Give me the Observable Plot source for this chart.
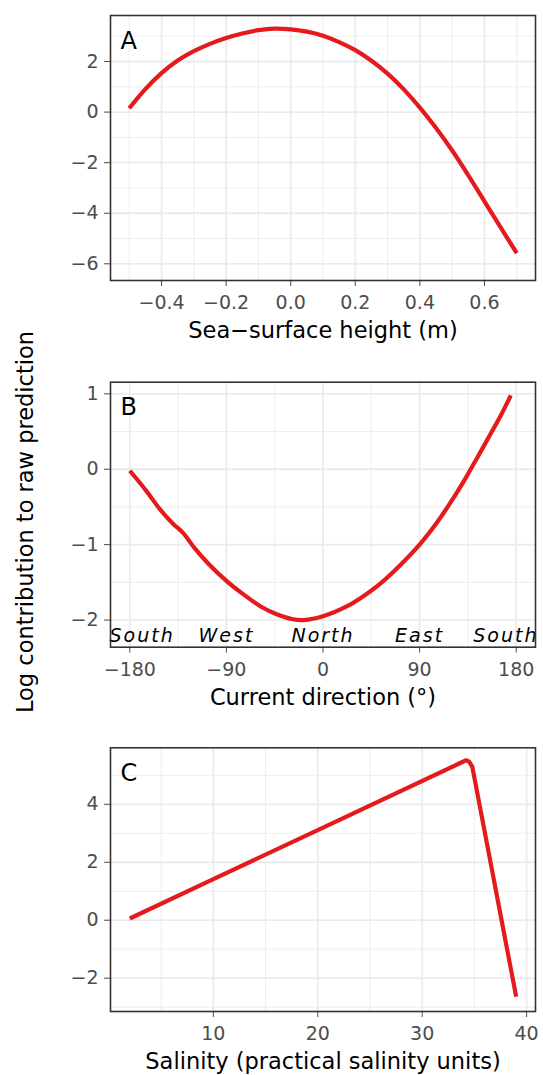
<!DOCTYPE html>
<html><head><meta charset="utf-8">
<script src="https://cdn.jsdelivr.net/npm/d3@7"></script>
<script src="https://cdn.jsdelivr.net/npm/@observablehq/plot@0.6"></script>
<style>
body{margin:0;background:#fff;}
#wrap{position:relative;width:543px;height:1075px;overflow:hidden;font-family:"DejaVu Sans";}
#wrap > svg{display:block;}
#ylab{position:absolute;left:0;top:0;}
</style></head><body><div id="wrap"></div>
<script>
// Panel A: sea-surface height (m)
const sshX = [-0.5,-0.45,-0.4,-0.35,-0.3,-0.25,-0.2,-0.15,-0.1,-0.05,0,0.05,0.1,0.15,0.2,0.25,0.3,0.35,0.4,0.45,0.5,0.55,0.6,0.65,0.7];
const sshY = [0.15,0.91,1.54,2.04,2.41,2.70,2.93,3.11,3.24,3.30,3.27,3.18,3.02,2.77,2.45,2.03,1.52,0.90,0.18,-0.63,-1.52,-2.50,-3.53,-4.56,-5.58];
const sshTicks = [-0.4,-0.2,0,0.2,0.4,0.6];
const sshMinor = [-0.5,-0.3,-0.1,0.1,0.3,0.5,0.7];
const aYTicks = [-6,-4,-2,0,2];
const aYMinor = [-5,-3,-1,1,3];

// Panel B: current direction (degrees)
const dirX = [-180,-165,-152,-140,-130,-120,-107,-90,-75,-58,-42,-28,-18,0,22,38,54,70,90,105,118,131,144,157,167,175];
const dirY = [-0.02,-0.28,-0.53,-0.72,-0.85,-1.04,-1.25,-1.48,-1.65,-1.82,-1.93,-1.99,-2.0,-1.95,-1.82,-1.68,-1.51,-1.30,-1.0,-0.73,-0.46,-0.165,0.16,0.49,0.75,0.98];
const dirTicks = [-180,-90,0,90,180];
const dirMinor = [-135,-45,45,135];
const bYTicks = [-2,-1,0,1];
const bYMinor = [-1.5,-0.5,0.5];
const compassLabels = ["South","West","North","East","South"];
const compassDeg = [-180,-90,0,90,180];

// Panel C: salinity
const salX = [2,10,20,34.2,34.5,34.8,39];
const salY = [0.06,1.42,3.11,5.52,5.47,5.29,-2.64];
const salTicks = [10,20,30,40];
const salMinor = [5,15,25,35];
const cYTicks = [-2,0,2,4];
const cYMinor = [-3,-1,1,3,5];

const titles = ["Sea\u2212surface height (m)","Current direction (\u00B0)","Salinity (practical salinity units)"];
const letters = ["A","B","C"];
const yTitle = "Log contribution to raw prediction";

const RED = "#E41A1C", GRID = "#EBEBEB";
const FONT = "DejaVu Sans";

function panel(o){
  const data = o.x.map((v,i)=>({x:v,y:o.y[i]}));
  return Plot.plot({
    width:543, height:o.height, marginLeft:110, marginRight:8,
    marginTop:o.marginTop, marginBottom:o.marginBottom,
    style:{fontFamily:FONT, fontSize:"19px", color:"#4D4D4D", background:"white", overflow:"visible"},
    x:{domain:o.xDomain, ticks:o.xTicks, tickSize:6, tickPadding:9, tickFormat:o.xFormat, label:null},
    y:{domain:o.yDomain, ticks:o.yTicks, tickSize:6, tickPadding:6, tickFormat:d3.format("d"), label:null},
    marks:[
      Plot.ruleX(o.xMinor,{stroke:GRID,strokeWidth:0.9}),
      Plot.ruleY(o.yMinor,{stroke:GRID,strokeWidth:0.9}),
      Plot.ruleX(o.xTicks,{stroke:GRID,strokeWidth:1.8}),
      Plot.ruleY(o.yTicks,{stroke:GRID,strokeWidth:1.8}),
      ...(o.extra||[]),
      Plot.line(data,{x:"x",y:"y",stroke:RED,strokeWidth:4.2,curve:o.curve,strokeLinecap:"butt"}),
      Plot.frame({stroke:"#333333",strokeWidth:1.6}),
      Plot.text([o.letter],{frameAnchor:"top-left",dx:10,dy:33,lineAnchor:"bottom",fontSize:24,fill:"black",fontFamily:FONT}),
      Plot.text([o.title],{frameAnchor:"bottom",dy:57.5,lineAnchor:"bottom",fontSize:22.5,fill:"black",fontFamily:FONT})
    ]
  });
}

const wrap = document.getElementById("wrap");

wrap.append(panel({
  x:sshX, y:sshY, height:345, marginTop:15, marginBottom:65,
  xDomain:[-0.558,0.758], yDomain:[-6.66,3.82],
  xTicks:sshTicks, xMinor:sshMinor, yTicks:aYTicks, yMinor:aYMinor,
  xFormat:d3.format(".1f"), letter:letters[0], title:titles[0], curve:"catmull-rom"
}));

const compassMid = compassDeg.map((d,i)=>({d,l:compassLabels[i]})).slice(1,4);
const compassStyle = {fontSize:19, fontStyle:"italic", fill:"black", fontFamily:FONT, lineAnchor:"bottom", dy:-5};
const pB = panel({
  x:dirX, y:dirY, height:367, marginTop:36.7, marginBottom:65.3,
  xDomain:[-198,198], yDomain:[-2.36,1.154],
  xTicks:dirTicks, xMinor:dirMinor, yTicks:bYTicks, yMinor:bYMinor,
  xFormat:d3.format("d"), letter:letters[1], title:titles[1], curve:"catmull-rom",
  extra:[
    Plot.text(compassMid,{x:"d",text:"l",frameAnchor:"bottom",...compassStyle}),
    Plot.text([compassLabels[0]],{frameAnchor:"bottom-left",textAnchor:"start",dx:-1,...compassStyle}),
    Plot.text([compassLabels[4]],{frameAnchor:"bottom-right",textAnchor:"end",dx:3,...compassStyle})
  ]
});
d3.select(pB).selectAll("text").filter(function(){return compassLabels.includes(this.textContent);})
  .style("letter-spacing","2px");
wrap.append(pB);

wrap.append(panel({
  x:salX, y:salY, height:363, marginTop:35.3, marginBottom:64,
  xDomain:[0.15,40.85], yDomain:[-3.15,5.95],
  xTicks:salTicks, xMinor:salMinor, yTicks:cYTicks, yMinor:cYMinor,
  xFormat:d3.format("d"), letter:letters[2], title:titles[2], curve:"linear"
}));

// shared y-axis title
const ov = d3.select(wrap).append("svg").attr("id","ylab").attr("width",60).attr("height",1075);
ov.append("text").attr("transform","translate(33,522) rotate(-90)")
  .attr("text-anchor","middle").attr("font-family",FONT).attr("font-size",22.5)
  .attr("fill","black").text(yTitle);
</script></body></html>
